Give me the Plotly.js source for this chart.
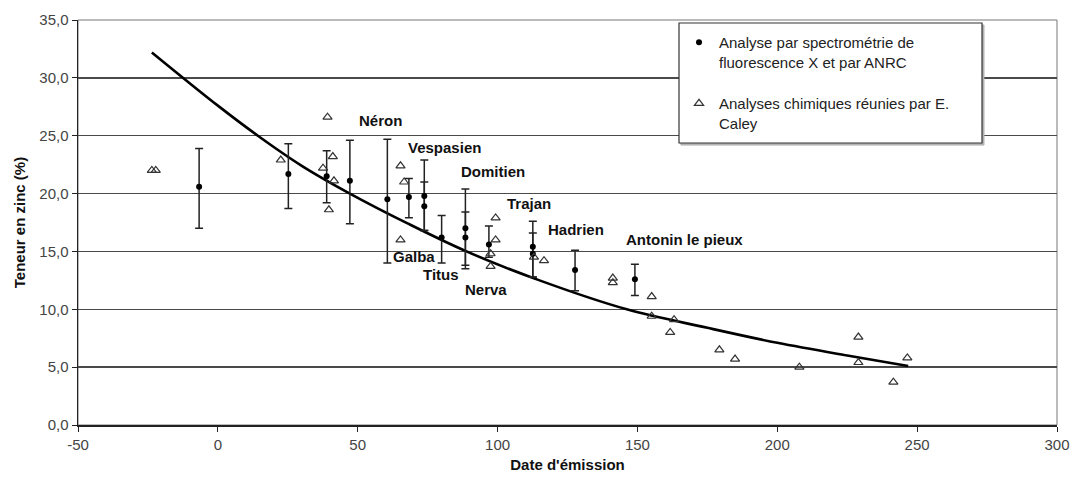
<!DOCTYPE html>
<html>
<head>
<meta charset="utf-8">
<script src="https://cdn.plot.ly/plotly-3.0.1.min.js"></script>
<style>html,body{margin:0;padding:0;background:#fff;}#chart{width:1075px;height:482px;}</style>
</head>
<body>
<div id="chart"></div>
<script>
// ANRC / X-ray fluorescence analyses (dots with error bars)
const anrcX     = [-6.7, 25.2, 38.9, 47.2, 60.6, 68.3, 73.8, 73.8, 80.0, 88.5, 88.5, 96.9, 112.6, 112.6, 127.7, 149.1];
const anrcY     = [20.6, 21.7, 21.5, 21.1, 19.5, 19.7, 19.8, 18.9, 16.2, 17.0, 16.2, 15.6, 15.4, 14.8, 13.4, 12.6];
const anrcPlus  = [3.3, 2.6, 2.2, 3.5, 5.2, 1.6, 3.1, 2.1, 1.9, 3.4, 2.2, 1.6, 2.2, 1.8, 1.7, 1.3];
const anrcMinus = [3.6, 3.0, 2.3, 3.7, 5.5, 1.8, 3.0, 2.1, 2.2, 3.5, 2.4, 1.1, 2.6, 2.0, 1.8, 1.4];

// Chemical analyses gathered by E. Caley (open triangles)
const caleyX = [-23.6, -22.2, 22.5, 39.2, 37.6, 41.1, 41.5, 39.7, 65.3, 66.6, 65.3, 99.3, 99.3, 97.5, 97.5, 113.0, 116.6, 141.2, 141.2, 155.1, 155.1, 163.1, 161.7, 179.3, 184.9, 207.9, 229.0, 229.0, 241.5, 246.5];
const caleyY = [22.0, 22.0, 22.9, 26.6, 22.2, 23.2, 21.1, 18.6, 22.4, 21.0, 16.0, 17.9, 16.0, 14.8, 13.7, 14.5, 14.2, 12.7, 12.3, 11.1, 9.4, 9.1, 8.0, 6.5, 5.7, 5.0, 7.6, 5.4, 3.7, 5.8];

// Trend curve, points
const curveX = [-23.6, 0, 14.3, 30, 47.2, 68, 88.9, 115, 146.2, 175, 200, 225, 246.8];
const curveY = [32.2, 27.6, 25.0, 22.4, 20.0, 17.4, 15.0, 12.5, 10.0, 8.4, 7.1, 6.0, 5.1];

// Emperor labels
const empNames = ["Néron", "Vespasien", "Domitien", "Trajan", "Hadrien", "Antonin le pieux", "Galba", "Titus", "Nerva"];
const empX     = [58.3, 81.2, 98.2, 111.1, 128.2, 166.7, 70.1, 79.6, 96.0];
const empY     = [26.3, 24.0, 21.9, 19.1, 16.9, 16.0, 14.6, 13.0, 11.75];

// Tick labels
const xTickVals = [-50, 0, 50, 100, 150, 200, 250, 300];
const xTickText = ["-50", "0", "50", "100", "150", "200", "250", "300"];
const yTickVals = [0, 5, 10, 15, 20, 25, 30, 35];
const yTickText = ["0,0", "5,0", "10,0", "15,0", "20,0", "25,0", "30,0", "35,0"];

const legendNames = ["Analyse par spectrométrie de<br>fluorescence X et par ANRC",
                     "Analyses chimiques réunies par E.<br>Caley"];

const FONT = "Liberation Sans, Arial, sans-serif";

const traces = [
  {
    x: curveX, y: curveY, mode: "lines", type: "scatter",
    line: {color: "#000", width: 2.6, shape: "spline", smoothing: 1.0},
    showlegend: false, hoverinfo: "skip"
  },
  {
    x: anrcX, y: anrcY, mode: "markers", type: "scatter",
    name: legendNames[0], legendgroup: "a",
    marker: {symbol: "circle", size: 6, color: "#000"},
    error_y: {type: "data", symmetric: false, array: anrcPlus, arrayminus: anrcMinus,
              color: "#222", thickness: 1.5, width: 4}
  },
  {
    x: caleyX, y: caleyY, mode: "markers", type: "scatter",
    name: legendNames[1], legendgroup: "b",
    marker: {symbol: "triangle-up-open", size: 8, color: "#333", line: {width: 1.2, color: "#333"}}
  }
];

const annotations = empNames.map((t, i) => ({
  x: empX[i], y: empY[i], xref: "x", yref: "y", text: "<b>" + t + "</b>",
  showarrow: false, font: {family: FONT, size: 15, color: "#111"}
}));

const layout = {
  width: 1075, height: 482,
  margin: {l: 78, r: 18, t: 20, b: 57},
  paper_bgcolor: "#fff", plot_bgcolor: "#fff",
  font: {family: FONT, size: 15, color: "#333"},
  xaxis: {
    range: [-50, 300], tickmode: "array", tickvals: xTickVals, ticktext: xTickText,
    showgrid: false, zeroline: false,
    showline: true, linecolor: "#222", linewidth: 1.5,
    ticks: "outside", ticklen: 5, tickcolor: "#222",
    tickfont: {family: FONT, size: 15, color: "#444"},
    title: {text: "<b>Date d'émission</b>", font: {family: FONT, size: 15, color: "#111"}, standoff: 8}
  },
  yaxis: {
    range: [0, 35], tickmode: "array", tickvals: yTickVals, ticktext: yTickText, zeroline: false,
    showgrid: true, gridcolor: "#4a4a4a", gridwidth: 1.4,
    showline: true, linecolor: "#222", linewidth: 1.5,
    ticks: "outside", ticklen: 5, tickcolor: "#222",
    tickfont: {family: FONT, size: 15, color: "#444"},
    title: {text: "<b>Teneur en zinc (%)</b>", font: {family: FONT, size: 15, color: "#111"}, standoff: 10}
  },
  showlegend: true,
  legend: {
    x: 0.6139, y: 0.985, xanchor: "left", yanchor: "top",
    bgcolor: "rgba(0,0,0,0)", borderwidth: 0,
    font: {family: FONT, size: 15, color: "#222"},
    tracegroupgap: 19, valign: "top"
  },
  shapes: [
    {type: "rect", xref: "paper", yref: "paper", x0: 0, x1: 1, y0: 0, y1: 1,
     line: {color: "#777", width: 1}, layer: "below"},
    {type: "rect", xref: "paper", yref: "paper", x0: 0.6159, x1: 0.9254, y0: 0.6913, y1: 0.9876,
     line: {color: "#aaa", width: 1}, fillcolor: "#bbb", layer: "above"},
    {type: "rect", xref: "paper", yref: "paper", x0: 0.6139, x1: 0.9234, y0: 0.6963, y1: 0.9926,
     line: {color: "#333", width: 1.2}, fillcolor: "#fff", layer: "above"}
  ],
  annotations: annotations
};

Plotly.newPlot("chart", traces, layout, {displayModeBar: false, staticPlot: true});
</script>
</body>
</html>
